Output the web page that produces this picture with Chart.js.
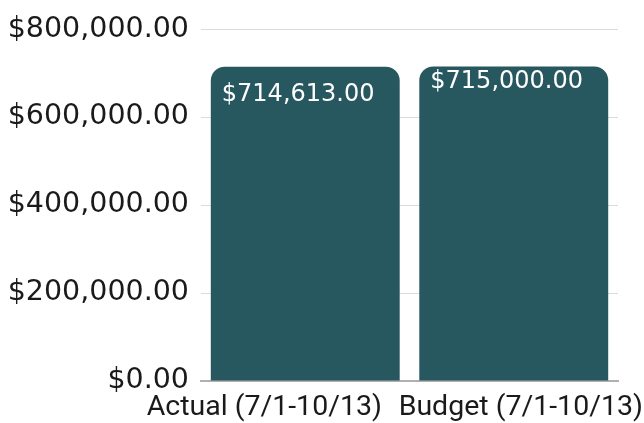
<!DOCTYPE html>
<html>
<head>
<meta charset="utf-8">
<script src="https://cdn.jsdelivr.net/npm/chart.js@4"></script>
<style>
  html, body { margin: 0; padding: 0; background: #fff; }
  #wrap { width: 644px; height: 423px; }
</style>
</head>
<body>
<div id="wrap"><canvas id="budgetChart" width="644" height="423"></canvas></div>
<script>
// Chart data
const categories = ['Actual (7/1-10/13)', 'Budget (7/1-10/13)'];
const amounts = [714613, 715000];
const yTicks = [0, 200000, 400000, 600000, 800000];

const money = v => '$' + Number(v).toLocaleString('en-US', { minimumFractionDigits: 2, maximumFractionDigits: 2 });

// Draw value labels inside the top of each bar
const valueLabels = {
    id: 'valueLabels',
    afterDatasetsDraw(chart, args, opts) {
        const ctx = chart.ctx;
        const meta = chart.getDatasetMeta(0);
        ctx.save();
        ctx.font = opts.font;
        ctx.fillStyle = opts.color;
        ctx.textBaseline = 'top';
        ctx.textAlign = 'left';
        meta.data.forEach((bar, i) => {
            const left = bar.x - bar.width / 2 + opts.padX;
            ctx.fillText(money(amounts[i]), left, bar.y + opts.offsets[i]);
        });
        ctx.restore();
    }
};

// Category labels, nudged apart so they don't collide
const categoryLabels = {
    id: 'categoryLabels',
    afterDraw(chart, args, opts) {
        const ctx = chart.ctx;
        const xScale = chart.scales.x;
        ctx.save();
        ctx.font = opts.font;
        ctx.fillStyle = opts.color;
        ctx.textBaseline = 'middle';
        ctx.textAlign = 'center';
        categories.forEach((label, i) => {
            const x = xScale.getPixelForValue(i) + opts.shifts[i];
            ctx.fillText(label, x, xScale.bottom - opts.fromBottom);
        });
        ctx.restore();
    }
};

new Chart(document.getElementById('budgetChart'), {
    type: 'bar',
    data: {
        labels: categories,
        datasets: [{
            data: amounts,
            backgroundColor: '#27575f',
            borderRadius: { topLeft: 14, topRight: 14 },
            borderSkipped: 'bottom',
            barPercentage: 0.906,
            categoryPercentage: 1
        }]
    },
    options: {
        responsive: false,
        animation: false,
        layout: { padding: { top: 8, right: 26, bottom: 0, left: 0 } },
        plugins: {
            legend: { display: false },
            tooltip: { enabled: false },
            valueLabels: {
                font: '24px "DejaVu Sans"',
                color: '#ffffff',
                padX: 11,
                offsets: [16, 3]
            },
            categoryLabels: {
                font: '28.5px Roboto',
                color: '#1a1a1a',
                shifts: [-41, 7],
                fromBottom: 15
            }
        },
        scales: {
            y: {
                min: 0,
                max: 800000,
                afterBuildTicks: scale => { scale.ticks = yTicks.map(v => ({ value: v })); },
                afterFit: scale => { scale.width = 201; },
                grid: { color: '#dcdcdc', drawTicks: false },
                border: { display: false },
                ticks: {
                    padding: 12,
                    color: '#1a1a1a',
                    font: { family: 'DejaVu Sans', size: 28.5 },
                    callback: v => money(v)
                }
            },
            x: {
                afterFit: scale => { scale.height = 42; },
                grid: { display: false },
                border: { color: '#b0b0b0', width: 2 },
                ticks: { display: false }
            }
        }
    },
    plugins: [valueLabels, categoryLabels]
});
</script>
</body>
</html>
